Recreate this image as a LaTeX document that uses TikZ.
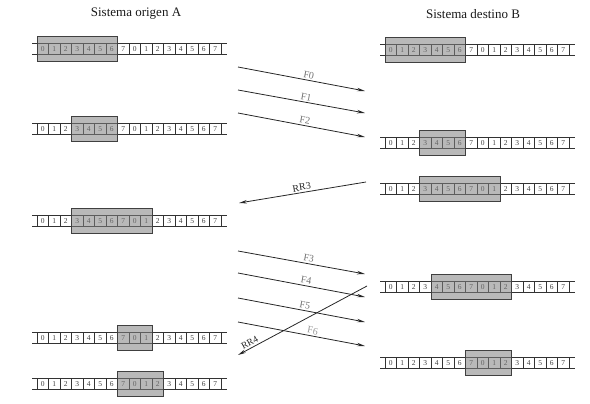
\documentclass[tikz,border=0pt]{standalone}
\usepackage{fontspec}
\setmainfont{Liberation Serif}
\usetikzlibrary{arrows.meta}
\tikzset{
  cell/.style={draw=black!80, line width=0.5pt, minimum width=11.5pt, minimum height=11pt, inner sep=0pt, font=\fontsize{7.5}{8}\selectfont, text=black!75},
  rail/.style={draw=black!80, line width=0.8pt},
  window/.style={draw=black!75, line width=0.9pt, fill=black!50, fill opacity=0.55, minimum height=25pt, inner sep=0pt},
  msg/.style={draw=black!85, line width=0.8pt, -{Stealth[length=8pt, width=3.5pt]}},
  lbl/.style={font=\fontsize{10}{11}\selectfont, text=black!55, inner sep=1.5pt, sloped, above},
  title/.style={font=\fontsize{13}{15}\selectfont, text=black!90}
}
\newcommand{\seqrow}[5]{%
  \draw[rail] (#2-5, #3-5.5) -- (#2+16*11.5+6, #3-5.5);
  \draw[rail] (#2-5, #3+5.5) -- (#2+16*11.5+6, #3+5.5);
  \foreach \i in {0,...,15} {
    \pgfmathtruncatemacro\dd{mod(\i,8)}
    \node[cell] (#1c\i) at (#2+\i*11.5+5.75, #3) {\dd};
  }
  \node[window, minimum width=#5*11.5pt] (#1w) at (#2+#4*11.5+#5*5.75, #3) {};
}
\begin{document}
\begin{tikzpicture}[x=1pt, y=-1pt]
\useasboundingbox (0,0) rectangle (590,404);
\node[title] (ta) at (136,14) {Sistema origen A};
\node[title] (tb) at (473,14) {Sistema destino B};
% left rows
\seqrow{la}{37}{49}{0}{7}
\seqrow{lb}{37}{129}{3}{4}
\seqrow{lc}{37}{221}{3}{7}
\seqrow{ld}{37}{338}{7}{3}
\seqrow{le}{37}{384}{7}{4}
% right rows
\seqrow{ra}{385}{50}{0}{7}
\seqrow{rb}{385}{143}{3}{4}
\seqrow{rc}{385}{189}{3}{7}
\seqrow{rd}{385}{287}{4}{7}
\seqrow{re}{385}{363}{7}{4}
% message endpoints
\coordinate (f0s) at (238,67);  \coordinate (f0e) at (365,91);
\coordinate (f1s) at (238,90);  \coordinate (f1e) at (365,113);
\coordinate (f2s) at (238,113); \coordinate (f2e) at (365,137);
\coordinate (r3s) at (366,182); \coordinate (r3e) at (239,203);
\coordinate (f3s) at (238,251); \coordinate (f3e) at (365,274);
\coordinate (f4s) at (238,273); \coordinate (f4e) at (365,297);
\coordinate (f5s) at (238,298); \coordinate (f5e) at (365,322);
\coordinate (f6s) at (238,322); \coordinate (f6e) at (365,346);
\coordinate (r4s) at (367,286); \coordinate (r4e) at (238,355);
\draw[msg] (f0s) -- node[lbl, pos=0.55] (lf0) {F0} (f0e);
\draw[msg] (f1s) -- node[lbl, pos=0.53] (lf1) {F1} (f1e);
\draw[msg] (f2s) -- node[lbl, pos=0.52] (lf2) {F2} (f2e);
\draw[msg] (r3s) -- node[lbl, pos=0.5, text=black!85] (lr3) {RR3} (r3e);
\draw[msg] (f3s) -- node[lbl, pos=0.55] (lf3) {F3} (f3e);
\draw[msg] (f4s) -- node[lbl, pos=0.53] (lf4) {F4} (f4e);
\draw[msg] (f5s) -- node[lbl, pos=0.52] (lf5) {F5} (f5e);
\draw[msg] (f6s) -- node[lbl, pos=0.58, text=black!40] (lf6) {F6} (f6e);
\draw[msg] (r4s) -- node[lbl, pos=0.89, inner sep=2pt, font=\fontsize{9.5}{10}\selectfont, text=black!85] (lr4) {RR4} (r4e);
\end{tikzpicture}
\end{document}
